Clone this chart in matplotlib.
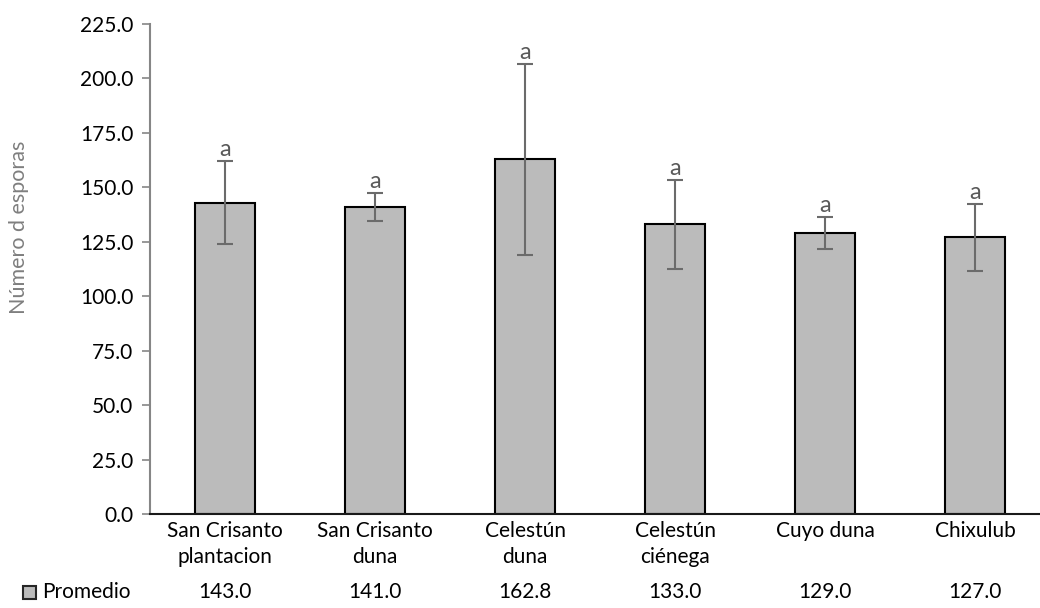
import numpy as np
import matplotlib.pyplot as plt
from matplotlib.ticker import MultipleLocator, FormatStrFormatter
from matplotlib.patches import Rectangle

# datos
sitios = ['San Crisanto\nplantacion', 'San Crisanto\nduna', 'Celestún\nduna',
          'Celestún\nciénega', 'Cuyo duna', 'Chixulub']
promedio = [143.0, 141.0, 162.8, 133.0, 129.0, 127.0]
error = [19.0, 6.3, 44.0, 20.5, 7.3, 15.2]
letras = ['a', 'a', 'a', 'a', 'a', 'a']
serie = 'Promedio'

plt.rcParams['font.family'] = ['Lato', 'DejaVu Sans']
plt.rcParams['font.size'] = 15

W, H = 1040, 608
fig = plt.figure(figsize=(W / 100, H / 100), dpi=100)
# eje: x de 150 a 1050 px, y de 24 a 514 px
ax = fig.add_axes([150 / W, 94 / H, 900 / W, 490 / H])

x = np.arange(len(sitios))
ax.bar(x, promedio, width=0.4, color='#bbbbbb', edgecolor='black', linewidth=1.5, zorder=2)
ax.errorbar(x, promedio, yerr=error, fmt='none', ecolor='#6b6b6b', elinewidth=1.5,
            capsize=5.5, capthick=1.5, zorder=3)

for xi, m, e, l in zip(x, promedio, error, letras):
    ax.text(xi, m + e + 0.5, l, ha='center', va='bottom', fontsize=17, color='#595959', zorder=4)

ax.set_xlim(-0.5, 5.5)
ax.set_ylim(0, 225)
ax.yaxis.set_major_locator(MultipleLocator(25))
ax.yaxis.set_major_formatter(FormatStrFormatter('%.1f'))

for s in ['top', 'right']:
    ax.spines[s].set_visible(False)
ax.spines['left'].set_color('#868686')
ax.spines['left'].set_linewidth(1.5)
ax.spines['bottom'].set_color('#1a1a1a')
ax.spines['bottom'].set_linewidth(1.5)
ax.tick_params(axis='y', length=6, width=1.2, color='#868686', labelsize=15, pad=6)
ax.tick_params(axis='x', length=0, labelsize=15, pad=5)
ax.set_xticks(x)
ax.set_xticklabels(sitios, linespacing=1.4)

ax.set_ylabel('Número d esporas', fontsize=15.5, color='#7f7f7f')
ax.yaxis.set_label_coords(-0.134, 0.585)

# tabla de datos
fila_y = 1 - 592 / H
for xi, v in zip(x, promedio):
    px = ax.transData.transform((xi, 0))[0] / W
    fig.text(px, fila_y, f'{v:.1f}', ha='center', va='center', fontsize=15)
fig.patches.append(Rectangle((23 / W, fila_y - 6.5 / H), 13 / W, 13 / H, transform=fig.transFigure,
                             facecolor='#bbbbbb', edgecolor='#262626', linewidth=1.5))
fig.text(42 / W, fila_y, serie, ha='left', va='center', fontsize=15)

fig.savefig('out.png', dpi=100)
